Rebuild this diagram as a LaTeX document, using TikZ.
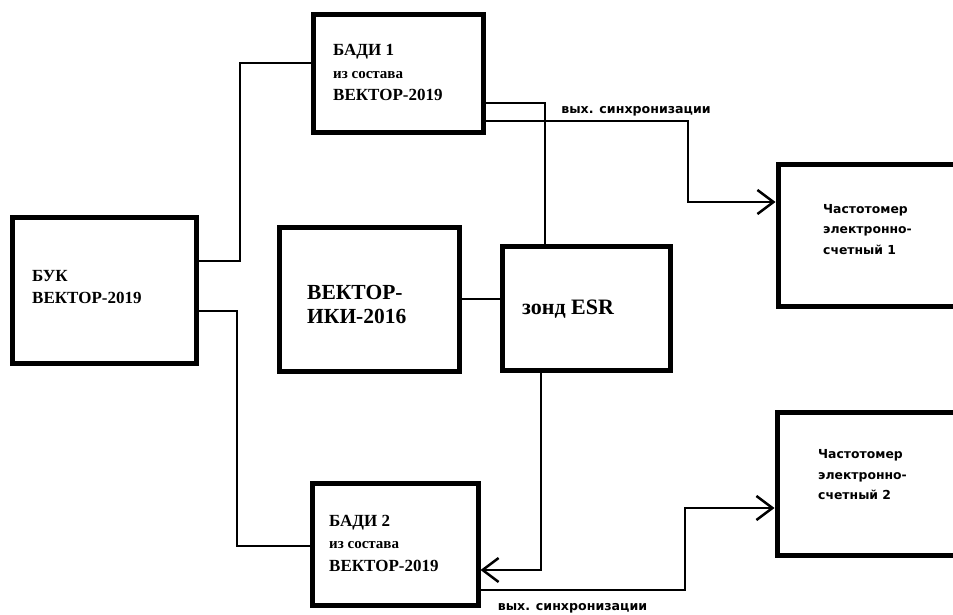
\documentclass[tikz,border=0pt]{standalone}
\usepackage{fontspec}
\setmainfont{Liberation Serif}
\newfontfamily\sansfam{DejaVu Sans}
\usetikzlibrary{arrows.meta}
\begin{document}
\begin{tikzpicture}[x=1pt,y=1pt,
  box/.style={draw, line width=5pt, rectangle, inner sep=0pt},
  conn/.style={line width=2.5pt},
  arr/.style={line width=2.5pt, -{Straight Barb[length=16pt,width=24pt,line width=2.5pt]}},
  serif/.style={font=\bfseries\fontsize{17}{22.5}\selectfont, align=left, anchor=west, inner sep=0pt},
  sanstxt/.style={font=\sansfam\bfseries\fontsize{12.4}{20.5}\selectfont, align=left, anchor=west, inner sep=0pt},
  lab/.style={font=\sansfam\bfseries\fontsize{12.6}{14}\selectfont, inner sep=0pt}
]
\useasboundingbox (0,0) rectangle (953,614);
\fill[white] (0,0) rectangle (953,614);

% boxes
\node[box, minimum width=170, minimum height=118] (bad1) at (398,540) {};
\node[box, minimum width=184, minimum height=145] (buk) at (104,323.5) {};
\node[box, minimum width=180, minimum height=143] (iki) at (369,314.5) {};
\node[box, minimum width=168, minimum height=123] (esr) at (586,305.5) {};
\node[box, minimum width=166, minimum height=122] (bad2) at (395,70) {};
\node[box, minimum width=187, minimum height=142] (f1) at (871.5,378) {};
\node[box, minimum width=188, minimum height=143] (f2) at (871,130.5) {};

% texts
\node[serif] (tbuk) at (32,327) {БУК\\ВЕКТОР-2019};
\node[serif] (tbad1) at (333,541.5) {БАДИ 1\\{\fontsize{15}{22.5}\selectfont из состава}\\ВЕКТОР-2019};
\node[serif] (tbad2) at (329,71) {БАДИ 2\\{\fontsize{15}{22.5}\selectfont из состава}\\ВЕКТОР-2019};
\node[serif, font=\bfseries\fontsize{21.5}{24}\selectfont] (tiki) at (307,310) {ВЕКТОР-\\ИКИ-2016};
\node[serif, font=\bfseries\fontsize{22}{20}\selectfont] (tesr) at (522,305) {зонд ESR};
\node[sanstxt] (tf1) at (823,384.5) {Частотомер\\электронно-\\счетный 1};
\node[sanstxt] (tf2) at (818,139) {Частотомер\\электронно-\\счетный 2};
\node[lab] (lab1) at (636,503) {вых. синхронизации};
\node[lab] (lab2) at (572.5,6) {вых. синхронизации};

% connectors
\draw[conn] ([yshift=29.5]buk.east) -- (240,353) |- ([yshift=11]bad1.west);
\draw[conn] ([yshift=-20.5]buk.east) -- (237,303) |- ([yshift=-2]bad2.west);
\draw[conn] ([yshift=0.5]iki.east) -- ([yshift=9.5]esr.west);
\draw[conn] ([xshift=-41]esr.north) |- ([yshift=-29]bad1.east);
\draw[arr] ([yshift=-47]bad1.east) -- (688,493) |- ([yshift=34]f1.west);
\draw[arr] ([xshift=-45]esr.south) |- ([yshift=-26]bad2.east);
\draw[arr] ([yshift=-46]bad2.east) -- (685,24) |- ([yshift=-24.5]f2.west);
\end{tikzpicture}
\end{document}
